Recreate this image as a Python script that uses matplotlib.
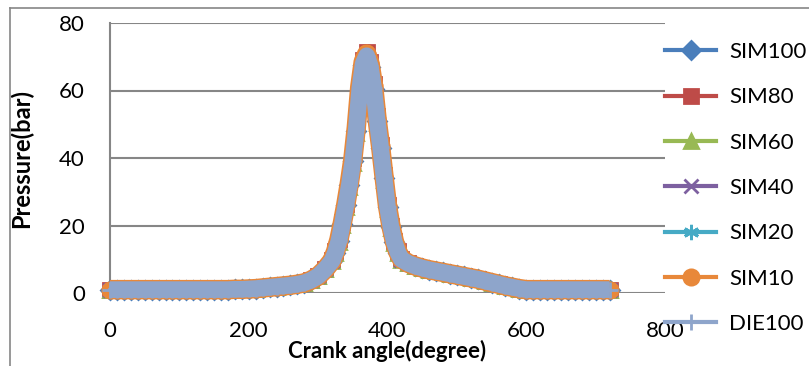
import numpy as np
import matplotlib.pyplot as plt
from matplotlib.lines import Line2D

plt.rcParams['font.family'] = ['Lato', 'DejaVu Sans']

# crank angle grid (degrees)
ang_intake = list(range(0, 320, 10))
ang_peak = list(range(320, 425, 5))
ang_tail = list(range(430, 730, 10))
angle = np.array(ang_intake + ang_peak + ang_tail)

# pressure (bar)
intake = [1.0, 1.0, 1.0, 1.0, 1.0, 1.0, 1.0, 1.0, 1.0, 1.0,
          1.0, 1.0, 1.0, 1.0, 1.0, 1.0, 1.0, 1.0, 1.1, 1.1,
          1.2, 1.3, 1.5, 1.7, 1.9, 2.1, 2.3, 2.6, 3.0, 3.8,
          5.0, 7.0]
tail = [8.8, 8.0, 7.4, 6.9, 6.5, 6.1, 5.7, 5.3, 4.9, 4.5,
        4.1, 3.6, 3.1, 2.6, 2.1, 1.7, 1.3, 1.0, 1.0, 1.0,
        1.0, 1.0, 1.0, 1.0, 1.0, 1.0, 1.0, 1.0, 1.0, 1.0]

peak_sim100 = [9.5, 12, 15.5, 20.5, 26, 32, 39, 48, 60, 67.5, 70, 67, 60.5, 51, 43, 34, 25.5, 19.5, 15, 12, 10]
peak_sim80 = [9.8, 12.5, 16, 21, 26.5, 33, 40, 49.5, 61.5, 69, 71.5, 68.5, 62, 52.5, 44, 35, 26, 20, 15.5, 12.3, 10.2]
peak_sim60 = [9.4, 11.8, 15.2, 20.1, 25.5, 31.5, 38.5, 47.5, 59.5, 67, 69.5, 66.5, 60, 50.5, 42.5, 33.5, 25, 19.2, 14.8, 11.8, 9.8]
peak_sim40 = [9.5, 12, 15.4, 20.3, 25.8, 31.8, 38.8, 47.8, 59.8, 67.3, 69.8, 66.8, 60.3, 50.8, 42.8, 33.8, 25.3, 19.4, 14.9, 11.9, 9.9]
peak_sim20 = [9.3, 11.7, 15, 19.8, 25.2, 31.1, 38, 47, 59, 66.5, 69.2, 66.2, 59.5, 50, 42, 33, 24.7, 19, 14.6, 11.6, 9.7]
peak_sim10 = [9.6, 12.2, 15.8, 20.8, 26.3, 32.5, 39.5, 49, 61, 68.5, 70.8, 67.8, 61.3, 51.5, 43.5, 34.5, 25.8, 19.8, 15.2, 12.1, 10.1]
peak_die100 = [9.5, 12, 15.5, 20.5, 26, 32, 39, 48.5, 60.5, 68, 70.3, 67.3, 60.8, 51.2, 43.2, 34.2, 25.5, 19.5, 15, 12, 10]

labels = ['SIM100', 'SIM80', 'SIM60', 'SIM40', 'SIM20', 'SIM10', 'DIE100']
peaks = [peak_sim100, peak_sim80, peak_sim60, peak_sim40, peak_sim20, peak_sim10, peak_die100]
colors = ['#4A7EBB', '#BE4B48', '#98B954', '#7D60A0', '#46AAC5', '#E8883A', '#8EA5CB']
markers = ['D', 's', '^', 'x', (6, 2, 0), 'o', '+']
msizes = [9, 10, 10, 10, 11, 11, 12]
bands = [10, 11, 10, 10, 11, 14, 12]

fig = plt.figure(figsize=(8.09, 3.66), dpi=100)
ax = fig.add_axes([110 / 809, 1 - 293 / 366, 555 / 809, 270 / 366])

grey = '#868686'
handles = []
for lab, pk, c, m, ms, bw in zip(labels, peaks, colors, markers, msizes, bands):
    p = np.array(intake + pk + tail)
    # thick band under the markers (the original has one point per degree)
    ax.plot(angle, p, color=c, lw=bw, solid_capstyle='butt', clip_on=False, zorder=3)
    ax.plot(angle, p, color=c, lw=2.5, marker=m, ms=ms, mew=2, mfc=c, mec=c,
            clip_on=False, zorder=3)
    handles.append(Line2D([], [], color=c, lw=3, marker=m, ms=ms, mew=2, mfc=c, mec=c))

ax.set_xlim(0, 800)
ax.set_ylim(0, 80)
ax.set_xticks([0, 200, 400, 600, 800])
ax.set_yticks([0, 20, 40, 60, 80])
ax.yaxis.grid(True, color=grey, lw=1.5)
ax.set_axisbelow(True)
for s in ['top', 'right', 'bottom']:
    ax.spines[s].set_visible(False)
ax.spines['left'].set_color(grey)
ax.spines['left'].set_linewidth(1.5)
ax.tick_params(axis='both', length=0, labelsize=16, colors='black')
ax.tick_params(axis='y', pad=18)
ax.tick_params(axis='x', pad=20)

ax.set_ylabel('Pressure(bar)', fontsize=17, fontweight='bold')
ax.yaxis.set_label_coords(-0.139, 0.5)
ax.set_xlabel('Crank angle(degree)', fontsize=16, fontweight='bold', va='center')
ax.xaxis.set_label_coords(0.5, -0.215)

fig.legend(handles, labels, loc='upper left', bbox_to_anchor=(665 / 809, 1 - 42 / 366),
           frameon=False, fontsize=16, borderpad=0, borderaxespad=0,
           handlelength=2.3, handletextpad=0.6, labelspacing=1.14)

# outer chart frame
fig.add_artist(Line2D([10 / 809, 1], [1 - 8 / 366, 1 - 8 / 366], color=grey, lw=1.2,
                      transform=fig.transFigure))
fig.add_artist(Line2D([10 / 809, 10 / 809], [0, 1 - 8 / 366], color=grey, lw=1.2,
                      transform=fig.transFigure))

fig.savefig('out.png', dpi=100)
